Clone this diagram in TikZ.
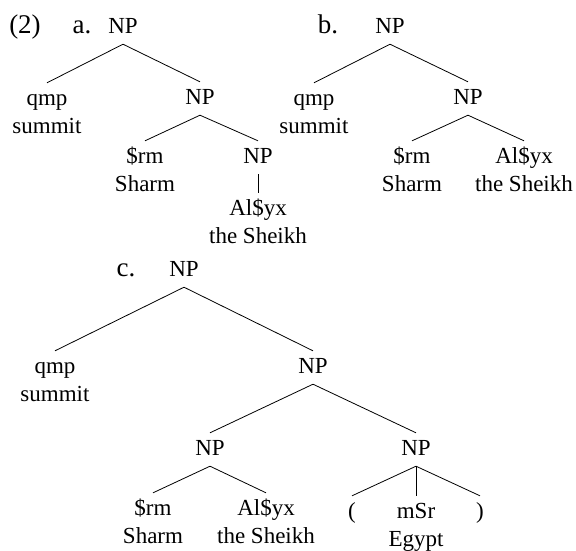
\documentclass[tikz,border=0pt]{standalone}
\usepackage{fontspec}
\setmainfont{Liberation Serif}
\begin{document}
\begin{tikzpicture}[x=1pt,y=-1pt,
  w/.style={anchor=base,font=\fontsize{23}{28}\selectfont,text height=15pt,text depth=4pt,inner xsep=0pt,inner ysep=7pt},
  lab/.style={anchor=base,font=\fontsize{27}{32}\selectfont,inner sep=0pt},
  br/.style={draw=black,line width=0.8pt}]
\useasboundingbox (0,0) rectangle (576,550);
% ---- (2) a.
\node[lab] (lab2) at (25,33) {(2)};
\node[lab] (laba) at (82,33) {a.};
\node[w] (a0) at (123,33) {NP};
\node[w] (a1) at (47,105) {qmp};
\node[w] (a1g) at (47,133) {summit};
\node[w] (a2) at (200,104) {NP};
\node[w] (a3) at (145,163) {\$rm};
\node[w] (a3g) at (145,191) {Sharm};
\node[w] (a4) at (258,163) {NP};
\node[w] (a5) at (258,215) {Al\$yx};
\node[w] (a5g) at (258,243) {the Sheikh};
\draw[br] (a1.north) -- (a0.south) -- (a2.north);
\draw[br] (a3.north) -- (a2.south) -- (a4.north);
\draw[br] (a4.south) -- (a5.north);
% ---- b.
\node[lab] (labb) at (328,33) {b.};
\node[w] (b0) at (390,33) {NP};
\node[w] (b1) at (314,105) {qmp};
\node[w] (b1g) at (314,133) {summit};
\node[w] (b2) at (468,104) {NP};
\node[w] (b3) at (412,163) {\$rm};
\node[w] (b3g) at (412,191) {Sharm};
\node[w] (b4) at (524,163) {Al\$yx};
\node[w] (b4g) at (524,191) {the Sheikh};
\draw[br] (b1.north) -- (b0.south) -- (b2.north);
\draw[br] (b3.north) -- (b2.south) -- (b4.north);
% ---- c.
\node[lab] (labc) at (126,276) {c.};
\node[w] (c0) at (184,276) {NP};
\node[w] (c1) at (55,373) {qmp};
\node[w] (c1g) at (55,401) {summit};
\node[w] (c2) at (313,373) {NP};
\node[w] (c3) at (210,455) {NP};
\node[w] (c4) at (416,455) {NP};
\node[w] (c5) at (153,515) {\$rm};
\node[w] (c5g) at (153,543) {Sharm};
\node[w] (c6) at (266,515) {Al\$yx};
\node[w] (c6g) at (266,543) {the Sheikh};
\node[w] (c7) at (352,518) {(};
\node[w] (c8) at (416,518) {mSr};
\node[w] (c8g) at (416,546) {Egypt};
\node[w] (c9) at (480,518) {)};
\draw[br] (c1.north) -- (c0.south) -- (c2.north);
\draw[br] (c3.north) -- (c2.south) -- (c4.north);
\draw[br] (c5.north) -- (c3.south) -- (c6.north);
\draw[br] (c7.north) -- (c4.south) -- (c9.north);
\draw[br] (c4.south) -- (c8.north);
\end{tikzpicture}
\end{document}
